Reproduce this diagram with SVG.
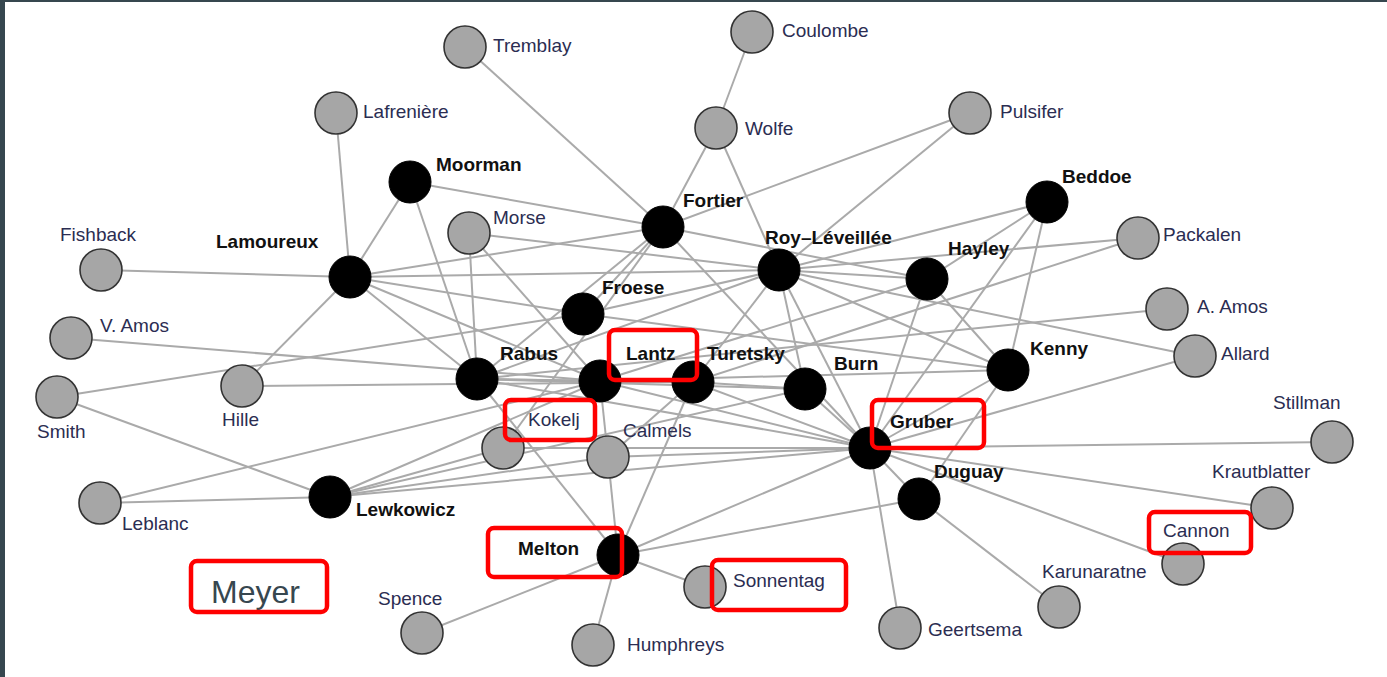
<svg xmlns="http://www.w3.org/2000/svg" width="1387" height="677" viewBox="0 0 1387 677">
<style>
.e{stroke:#aaaaaa;stroke-width:2;fill:none}
.g{fill:#a6a6a6;stroke:#333;stroke-width:1.6}
.b{fill:#000;stroke:#000;stroke-width:1}
.t{font-family:"Liberation Sans",Arial,sans-serif;font-size:19px;fill:#2b2d52}
.tb{font-family:"Liberation Sans",Arial,sans-serif;font-size:19px;font-weight:bold;fill:#111}
.hl{fill:none;stroke:#ff0000;stroke-width:4.5}
</style>
<rect x="0" y="0" width="1387" height="677" fill="#ffffff"/>
<rect x="0" y="0" width="5" height="677" fill="#36474f"/>
<rect x="0" y="0" width="1387" height="2" fill="#36474f"/>
<g id="connectors">
<line class="e" x1="465" y1="47" x2="663" y2="227"/>
<line class="e" x1="752" y1="32" x2="716" y2="128"/>
<line class="e" x1="716" y1="128" x2="663" y2="227"/>
<line class="e" x1="716" y1="128" x2="779" y2="270"/>
<line class="e" x1="970" y1="113" x2="663" y2="227"/>
<line class="e" x1="970" y1="113" x2="779" y2="270"/>
<line class="e" x1="336" y1="113" x2="350" y2="277"/>
<line class="e" x1="101" y1="270" x2="350" y2="277"/>
<line class="e" x1="410" y1="182" x2="350" y2="277"/>
<line class="e" x1="410" y1="182" x2="477" y2="379"/>
<line class="e" x1="410" y1="182" x2="663" y2="227"/>
<line class="e" x1="350" y1="277" x2="242" y2="386"/>
<line class="e" x1="350" y1="277" x2="477" y2="379"/>
<line class="e" x1="350" y1="277" x2="583" y2="314"/>
<line class="e" x1="350" y1="277" x2="779" y2="270"/>
<line class="e" x1="350" y1="277" x2="663" y2="227"/>
<line class="e" x1="350" y1="277" x2="600" y2="381"/>
<line class="e" x1="469" y1="233" x2="477" y2="379"/>
<line class="e" x1="469" y1="233" x2="600" y2="381"/>
<line class="e" x1="469" y1="233" x2="779" y2="270"/>
<line class="e" x1="663" y1="227" x2="583" y2="314"/>
<line class="e" x1="663" y1="227" x2="477" y2="379"/>
<line class="e" x1="663" y1="227" x2="503" y2="448"/>
<line class="e" x1="663" y1="227" x2="927" y2="279"/>
<line class="e" x1="663" y1="227" x2="870" y2="448"/>
<line class="e" x1="1047" y1="202" x2="779" y2="270"/>
<line class="e" x1="1047" y1="202" x2="927" y2="279"/>
<line class="e" x1="1047" y1="202" x2="1008" y2="370"/>
<line class="e" x1="1047" y1="202" x2="870" y2="448"/>
<line class="e" x1="1138" y1="238" x2="779" y2="270"/>
<line class="e" x1="1138" y1="238" x2="693" y2="382"/>
<line class="e" x1="779" y1="270" x2="1195" y2="356"/>
<line class="e" x1="779" y1="270" x2="583" y2="314"/>
<line class="e" x1="779" y1="270" x2="477" y2="379"/>
<line class="e" x1="779" y1="270" x2="805" y2="389"/>
<line class="e" x1="779" y1="270" x2="870" y2="448"/>
<line class="e" x1="779" y1="270" x2="1008" y2="370"/>
<line class="e" x1="779" y1="270" x2="927" y2="279"/>
<line class="e" x1="779" y1="270" x2="693" y2="382"/>
<line class="e" x1="927" y1="279" x2="870" y2="448"/>
<line class="e" x1="927" y1="279" x2="600" y2="381"/>
<line class="e" x1="927" y1="279" x2="1008" y2="370"/>
<line class="e" x1="1167" y1="309" x2="477" y2="379"/>
<line class="e" x1="1195" y1="356" x2="870" y2="448"/>
<line class="e" x1="1008" y1="370" x2="583" y2="314"/>
<line class="e" x1="1008" y1="370" x2="870" y2="448"/>
<line class="e" x1="1008" y1="370" x2="919" y2="499"/>
<line class="e" x1="1008" y1="370" x2="600" y2="381"/>
<line class="e" x1="71" y1="338" x2="600" y2="381"/>
<line class="e" x1="242" y1="386" x2="693" y2="382"/>
<line class="e" x1="57" y1="397" x2="583" y2="314"/>
<line class="e" x1="57" y1="397" x2="330" y2="497"/>
<line class="e" x1="100" y1="503" x2="330" y2="497"/>
<line class="e" x1="100" y1="503" x2="600" y2="381"/>
<line class="e" x1="330" y1="497" x2="503" y2="448"/>
<line class="e" x1="330" y1="497" x2="608" y2="457"/>
<line class="e" x1="330" y1="497" x2="600" y2="381"/>
<line class="e" x1="330" y1="497" x2="805" y2="389"/>
<line class="e" x1="330" y1="497" x2="870" y2="448"/>
<line class="e" x1="477" y1="379" x2="600" y2="381"/>
<line class="e" x1="477" y1="379" x2="693" y2="382"/>
<line class="e" x1="477" y1="379" x2="805" y2="389"/>
<line class="e" x1="477" y1="379" x2="870" y2="448"/>
<line class="e" x1="600" y1="381" x2="693" y2="382"/>
<line class="e" x1="600" y1="381" x2="870" y2="448"/>
<line class="e" x1="600" y1="381" x2="608" y2="457"/>
<line class="e" x1="693" y1="382" x2="870" y2="448"/>
<line class="e" x1="693" y1="382" x2="805" y2="389"/>
<line class="e" x1="693" y1="382" x2="608" y2="457"/>
<line class="e" x1="805" y1="389" x2="870" y2="448"/>
<line class="e" x1="608" y1="457" x2="870" y2="448"/>
<line class="e" x1="503" y1="448" x2="870" y2="448"/>
<line class="e" x1="618" y1="555" x2="477" y2="379"/>
<line class="e" x1="618" y1="555" x2="608" y2="457"/>
<line class="e" x1="618" y1="555" x2="693" y2="382"/>
<line class="e" x1="618" y1="555" x2="870" y2="448"/>
<line class="e" x1="618" y1="555" x2="919" y2="499"/>
<line class="e" x1="618" y1="555" x2="705" y2="587"/>
<line class="e" x1="618" y1="555" x2="422" y2="633"/>
<line class="e" x1="618" y1="555" x2="593" y2="645"/>
<line class="e" x1="870" y1="448" x2="919" y2="499"/>
<line class="e" x1="870" y1="448" x2="1332" y2="442"/>
<line class="e" x1="870" y1="448" x2="1272" y2="508"/>
<line class="e" x1="870" y1="448" x2="1183" y2="564"/>
<line class="e" x1="870" y1="448" x2="900" y2="628"/>
<line class="e" x1="919" y1="499" x2="1059" y2="607"/>
</g>
<g id="n-tremblay"><circle class="g" cx="465" cy="47" r="21"/><text class="t" x="493" y="52">Tremblay</text></g>
<g id="n-coulombe"><circle class="g" cx="752" cy="32" r="21"/><text class="t" x="782" y="37">Coulombe</text></g>
<g id="n-lafreniere"><circle class="g" cx="336" cy="113" r="21"/><text class="t" x="363" y="118">Lafrenière</text></g>
<g id="n-wolfe"><circle class="g" cx="716" cy="128" r="21"/><text class="t" x="745" y="135">Wolfe</text></g>
<g id="n-pulsifer"><circle class="g" cx="970" cy="113" r="21"/><text class="t" x="1000" y="118">Pulsifer</text></g>
<g id="n-moorman"><circle class="b" cx="410" cy="182" r="21"/><text class="tb" x="436" y="171">Moorman</text></g>
<g id="n-fortier"><circle class="b" cx="663" cy="227" r="21"/><text class="tb" x="683" y="207">Fortier</text></g>
<g id="n-morse"><circle class="g" cx="469" cy="233" r="21"/><text class="t" x="493" y="224">Morse</text></g>
<g id="n-beddoe"><circle class="b" cx="1047" cy="202" r="21"/><text class="tb" x="1062" y="183">Beddoe</text></g>
<g id="n-fishback"><circle class="g" cx="101" cy="270" r="21"/><text class="t" x="60" y="241">Fishback</text></g>
<g id="n-lamoureux"><circle class="b" cx="350" cy="277" r="21"/><text class="tb" x="216" y="248">Lamoureux</text></g>
<g id="n-roy"><circle class="b" cx="779" cy="270" r="21"/><text class="tb" x="765" y="244">Roy–Léveillée</text></g>
<g id="n-hayley"><circle class="b" cx="927" cy="279" r="21"/><text class="tb" x="948" y="255">Hayley</text></g>
<g id="n-packalen"><circle class="g" cx="1138" cy="238" r="21"/><text class="t" x="1163" y="241">Packalen</text></g>
<g id="n-froese"><circle class="b" cx="583" cy="314" r="21"/><text class="tb" x="602" y="294">Froese</text></g>
<g id="n-aamos"><circle class="g" cx="1167" cy="309" r="21"/><text class="t" x="1197" y="313">A. Amos</text></g>
<g id="n-vamos"><circle class="g" cx="71" cy="338" r="21"/><text class="t" x="100" y="332">V. Amos</text></g>
<g id="n-lantz"><circle class="b" cx="600" cy="381" r="21"/><text class="tb" x="626" y="360">Lantz</text></g>
<g id="n-turetsky"><circle class="b" cx="693" cy="382" r="21"/><text class="tb" x="707" y="360">Turetsky</text></g>
<g id="n-rabus"><circle class="b" cx="477" cy="379" r="21"/><text class="tb" x="500" y="360">Rabus</text></g>
<g id="n-allard"><circle class="g" cx="1195" cy="356" r="21"/><text class="t" x="1221" y="360">Allard</text></g>
<g id="n-kenny"><circle class="b" cx="1008" cy="370" r="21"/><text class="tb" x="1030" y="355">Kenny</text></g>
<g id="n-burn"><circle class="b" cx="805" cy="389" r="21"/><text class="tb" x="834" y="370">Burn</text></g>
<g id="n-smith"><circle class="g" cx="57" cy="397" r="21"/><text class="t" x="37" y="438">Smith</text></g>
<g id="n-hille"><circle class="g" cx="242" cy="386" r="21"/><text class="t" x="222" y="426">Hille</text></g>
<g id="n-kokelj"><circle class="g" cx="503" cy="448" r="21"/><text class="t" x="528" y="426">Kokelj</text></g>
<g id="n-calmels"><circle class="g" cx="608" cy="457" r="21"/><text class="t" x="623" y="437">Calmels</text></g>
<g id="n-gruber"><circle class="b" cx="870" cy="448" r="21"/><text class="tb" x="890" y="428">Gruber</text></g>
<g id="n-stillman"><circle class="g" cx="1332" cy="442" r="21"/><text class="t" x="1273" y="409">Stillman</text></g>
<g id="n-lewkowicz"><circle class="b" cx="330" cy="497" r="21"/><text class="tb" x="356" y="516">Lewkowicz</text></g>
<g id="n-duguay"><circle class="b" cx="919" cy="499" r="21"/><text class="tb" x="934" y="478">Duguay</text></g>
<g id="n-krautblatter"><circle class="g" cx="1272" cy="508" r="21"/><text class="t" x="1212" y="478">Krautblatter</text></g>
<g id="n-leblanc"><circle class="g" cx="100" cy="503" r="21"/><text class="t" x="122" y="530">Leblanc</text></g>
<g id="n-cannon"><circle class="g" cx="1183" cy="564" r="21"/><text class="t" x="1163" y="537">Cannon</text></g>
<g id="n-melton"><circle class="b" cx="618" cy="555" r="21"/><text class="tb" x="518" y="555">Melton</text></g>
<g id="n-sonnentag"><circle class="g" cx="705" cy="587" r="21"/><text class="t" x="733" y="587">Sonnentag</text></g>
<g id="n-karunaratne"><circle class="g" cx="1059" cy="607" r="21"/><text class="t" x="1042" y="578">Karunaratne</text></g>
<g id="n-spence"><circle class="g" cx="422" cy="633" r="21"/><text class="t" x="378" y="605">Spence</text></g>
<g id="n-humphreys"><circle class="g" cx="593" cy="645" r="21"/><text class="t" x="627" y="651">Humphreys</text></g>
<g id="n-geertsema"><circle class="g" cx="900" cy="628" r="21"/><text class="t" x="928" y="636">Geertsema</text></g>
<g id="n-meyer"><text x="211" y="603" style="font-family:'Liberation Sans',Arial,sans-serif;font-size:32px;fill:#37474f">Meyer</text></g>
<g id="highlights">
<rect class="hl" x="191" y="561" width="136" height="51" rx="6"/>
<rect class="hl" x="609" y="330" width="88" height="50" rx="6"/>
<rect class="hl" x="505" y="400" width="90" height="40" rx="6"/>
<rect class="hl" x="872" y="400" width="112" height="48" rx="6"/>
<rect class="hl" x="488" y="528" width="134" height="49" rx="6"/>
<rect class="hl" x="712" y="560" width="134" height="50" rx="6"/>
<rect class="hl" x="1149" y="512" width="102" height="41" rx="6"/>
</g>
</svg>
